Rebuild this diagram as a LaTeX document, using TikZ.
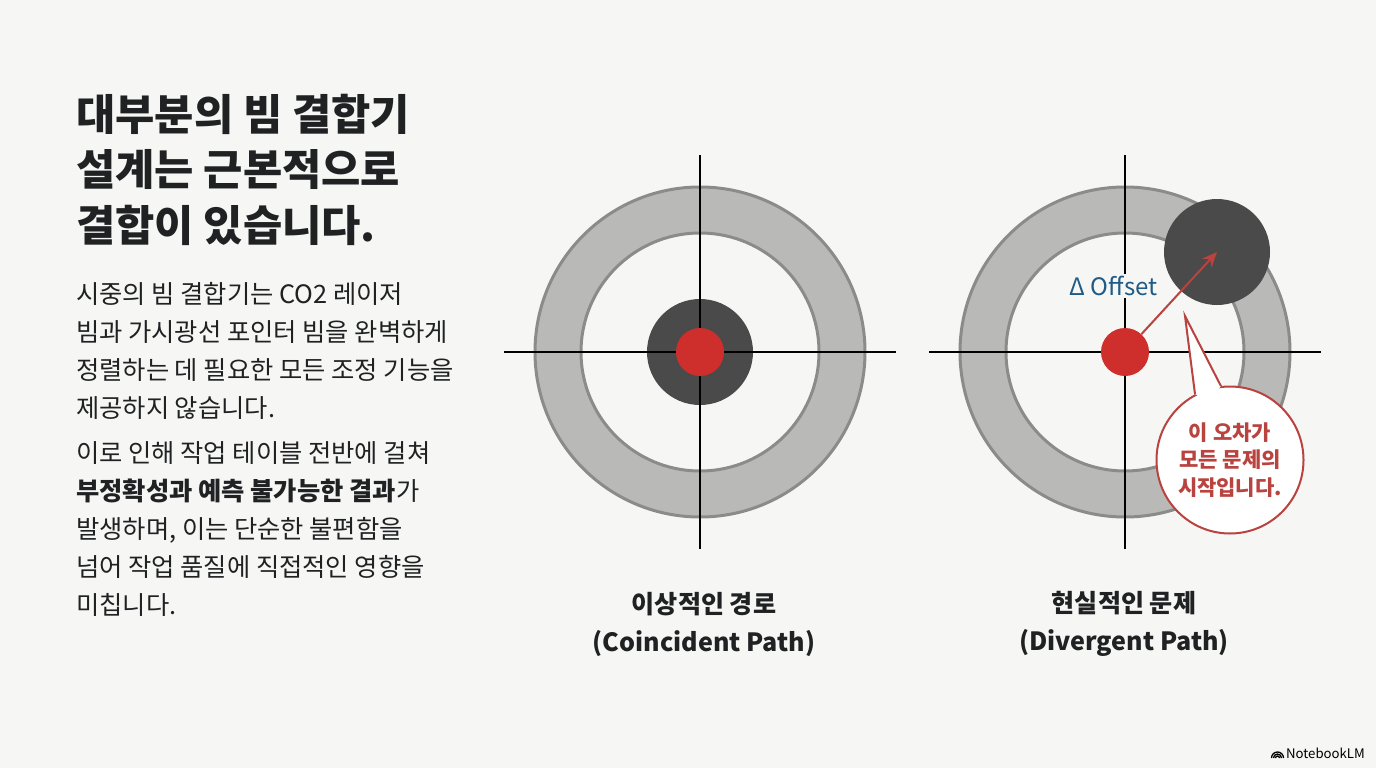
\documentclass[tikz,border=0pt]{standalone}
\usepackage{fontspec}
\usepackage{xcolor}
\setmainfont{Noto Sans CJK KR}
\usetikzlibrary{arrows.meta,positioning,calc}
\definecolor{paper}{HTML}{F6F6F4}
\definecolor{ink}{HTML}{1F2123}
\definecolor{ringgray}{HTML}{B9B9B7}
\definecolor{ringline}{HTML}{8B8B8A}
\definecolor{beamdark}{HTML}{4A4A4A}
\definecolor{beamred}{HTML}{CF2F2C}
\definecolor{noteline}{HTML}{B8433F}
\definecolor{offsetblue}{HTML}{1F5B86}

\begin{document}
\begin{tikzpicture}[x=1pt, y=-1pt, >=Stealth]
\tikzset{
  ringout/.style={circle, draw=ringline, fill=ringgray, line width=3pt, minimum size=330pt, inner sep=0pt},
  ringin/.style={circle, draw=ringline, fill=paper, line width=3pt, minimum size=238pt, inner sep=0pt},
  darkspot/.style={circle, fill=beamdark, minimum size=106pt, inner sep=0pt},
  redspot/.style={circle, fill=beamred, minimum size=48pt, inner sep=0pt},
  cross/.style={draw=black, line width=2pt},
  title/.style={anchor=north west, align=left, inner sep=0pt, text=ink, font=\fontsize{42.7}{55.5}\selectfont\bfseries},
  body/.style={anchor=north west, align=left, inner sep=0pt, text=ink, font=\fontsize{25.3}{38}\selectfont},
  caption/.style={align=center, inner sep=0pt, text=ink, font=\fontsize{25.1}{38}\selectfont\bfseries},
  bubble/.style={circle, draw=noteline, fill=white, line width=2pt, minimum size=147pt, inner sep=0pt, align=center, text=noteline, font=\fontsize{21}{27.5}\selectfont\bfseries},
}
\path[fill=paper, use as bounding box] (0,0) rectangle (1376,768);

% Left text
\node (head) [title] at (76,94) {대부분의 빔 결합기\\설계는 근본적으로\\결합이 있습니다.};
\node (para1) [body] at (76,282) {시중의 빔 결합기는 CO2 레이저\\빔과 가시광선 포인터 빔을 완벽하게\\정렬하는 데 필요한 모든 조정 기능을\\제공하지 않습니다.};
\node (para2) [body] at (76,441) {이로 인해 작업 테이블 전반에 걸쳐\\\textbf{부정확성과 예측 불가능한 결과}가\\발생하며, 이는 단순한 불편함을\\넘어 작업 품질에 직접적인 영향을\\미칩니다.};

% Ideal target
\node (ringA) [ringout] at (700,352) {};
\node (holeA) [ringin] at (700,352) {};
\node (darkA) [darkspot] at (700,352) {};
\coordinate (topA) at (700,155);
\coordinate (botA) at (700,549);
\coordinate (lftA) at (504,352);
\coordinate (rgtA) at (896,352);
\draw[cross] (topA) -- (botA);
\draw[cross] (lftA) -- (rgtA);
\node (redA) [redspot] at (700,352) {};
\node (capA) [caption] at (704,624) {이상적인 경로\\(Coincident Path)};

% Real target
\node (ringB) [ringout] at (1125,352) {};
\node (holeB) [ringin] at (1125,352) {};
\coordinate (topB) at (1125,155);
\coordinate (botB) at (1125,549);
\coordinate (lftB) at (929,352);
\coordinate (rgtB) at (1321,352);
\draw[cross] (topB) -- (botB);
\draw[cross] (lftB) -- (rgtB);
\node (darkB) [darkspot] at (1217,252) {};
\node (redB) [redspot] at (1125,352) {};
\node (offset) [fill=paper, inner sep=2pt, text=offsetblue, font=\fontsize{24}{28}\selectfont] at (1113.5,286) {Δ Offset};
\draw[-{Stealth[length=15pt,width=13pt]}, draw=noteline, fill=noteline, line width=2pt] (redB) -- (darkB.center);
\node (capB) [caption] at (1124,624) {현실적인 문제\\(Divergent Path)};

% Callout
\node (note) [bubble] at (1230,460) {이 오차가\\모든 문제의\\시작입니다.};
\coordinate (tip) at (1185,316);
\fill[white] (tip) -- (note.118) -- ($(note.center)!0.85!(note.108)$) -- (note.97) -- cycle;
\draw[draw=noteline, line width=2pt, line join=miter] (note.118) -- (tip) -- (note.97);

% Mark
\node (mark) [anchor=east, inner sep=0pt, text=black, font=\fontsize{13.2}{16}\selectfont] at (1365,753) {NotebookLM};
\foreach \rad in {2,4,6}
  \draw[line width=1.3pt, black] (1277.5-\rad,758) arc[start angle=180, end angle=360, radius=\rad];
\end{tikzpicture}
\end{document}
